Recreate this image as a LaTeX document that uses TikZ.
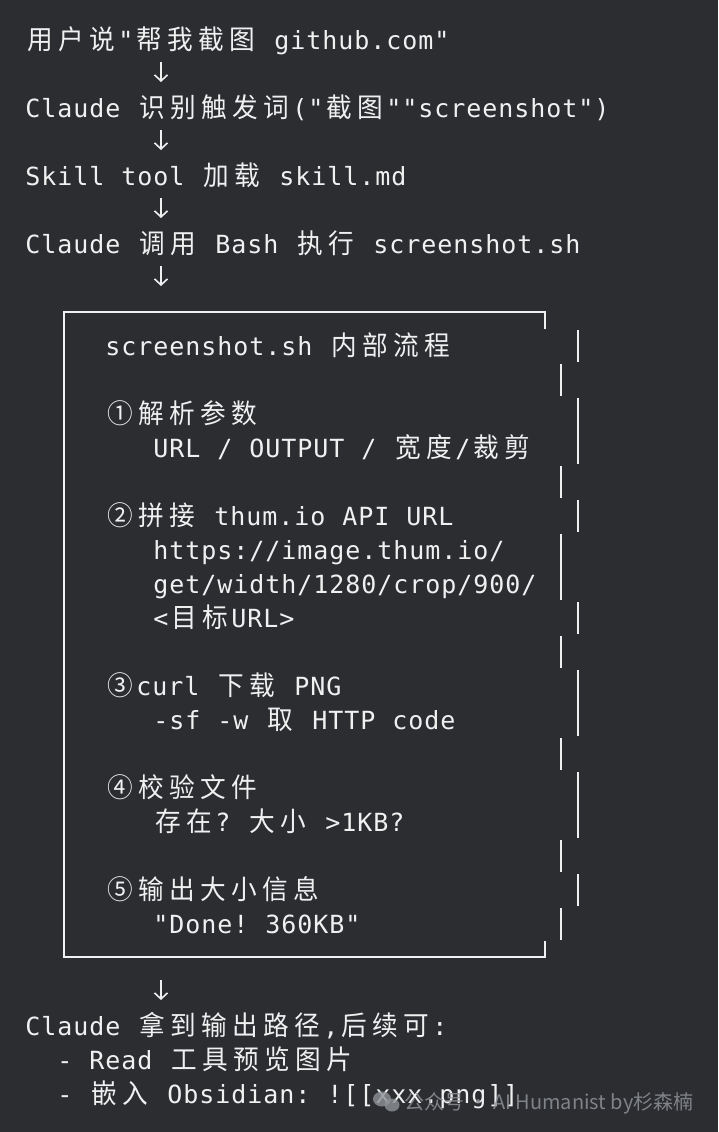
\documentclass[tikz,border=0pt]{standalone}
\usepackage{fontspec}
\usetikzlibrary{arrows.meta}
\newfontfamily\latf{DejaVu Sans Mono}
\newfontfamily\cjkf[Scale=1.08,FakeStretch=0.95]{Noto Sans CJK SC}
\newfontfamily\wmf{Noto Sans CJK SC}
\definecolor{bg}{HTML}{2B2D31}
\definecolor{fg}{HTML}{F0F0F0}
\definecolor{wmc}{HTML}{8E9196}
\def\tlend{\tlend}
\def\tlchar#1{\ifx#1~\hbox to 16pt{}\else\ifnum`#1>255\relax\hbox to 31pt{\hss\cjkf #1\hss}\else\hbox to 16pt{\hss\latf #1\hss}\fi\fi}
\def\tlloop#1{\ifx#1\tlend\else\tlchar#1\expandafter\tlloop\fi}
\newcommand\tline[1]{\fontsize{25pt}{30pt}\selectfont\tlloop#1\tlend}
\tikzset{
  txt/.style={anchor=base west, inner sep=0pt, outer sep=0pt, text=fg},
  arr/.style={draw=fg, line width=1.6pt, -{Straight Barb[length=6pt,width=13pt,line width=1.6pt]}},
  bx/.style={draw=fg, line width=1.6pt},
}
\begin{document}
\begin{tikzpicture}[x=1pt,y=-1pt]
\fill[bg] (0,0) rectangle (718,1132);
\useasboundingbox (0,0) rectangle (718,1132);
% top flow
\node[txt] (l0) at (25,49) {\tline{用户说"帮我截图~github.com"}};
\node[txt] (l2) at (25,117) {\tline{Claude~识别触发词("截图""screenshot")}};
\node[txt] (l4) at (25,185) {\tline{Skill~tool~加载~skill.md}};
\node[txt] (l6) at (25,253) {\tline{Claude~调用~Bash~执行~screenshot.sh}};
\coordinate (boxin) at (161,286);
\coordinate (boxout) at (161,980);
% box contents
\node[txt] (b9) at (105,355) {\tline{screenshot.sh~内部流程}};
\node[txt] (b11) at (105,423) {\tline{①解析参数}};
\node[txt] (b12) at (153,457) {\tline{URL~/~OUTPUT~/~宽度/裁剪}};
\node[txt] (b14) at (105,525) {\tline{②拼接~thum.io~API~URL}};
\node[txt] (b15) at (153,559) {\tline{https://image.thum.io/}};
\node[txt] (b16) at (153,593) {\tline{get/width/1280/crop/900/}};
\node[txt] (b17) at (153,627) {\tline{<目标URL>}};
\node[txt] (b19) at (105,695) {\tline{③curl~下载~PNG}};
\node[txt] (b20) at (153,729) {\tline{-sf~-w~取~HTTP~code}};
\node[txt] (b22) at (105,797) {\tline{④校验文件}};
\node[txt] (b23) at (153,831) {\tline{存在?~大小~>1KB?}};
\node[txt] (b25) at (105,899) {\tline{⑤输出大小信息}};
\node[txt] (b26) at (153,933) {\tline{"Done!~360KB"}};
% bottom
\node[txt] (l29) at (25,1035) {\tline{Claude~拿到输出路径,后续可:}};
\node[txt] (l30) at (25,1069) {\tline{~~-~Read~工具预览图片}};
\node[txt] (l31) at (25,1103) {\tline{~~-~嵌入~Obsidian:~![[xxx.png]]}};
% arrows
\draw[arr] ([xshift=136pt,yshift=-13pt]l0.base west) -- ([xshift=136pt,yshift=35pt]l2.base west);
\draw[arr] ([xshift=136pt,yshift=-13pt]l2.base west) -- ([xshift=136pt,yshift=35pt]l4.base west);
\draw[arr] ([xshift=136pt,yshift=-13pt]l4.base west) -- ([xshift=136pt,yshift=35pt]l6.base west);
\draw[arr] ([xshift=136pt,yshift=-13pt]l6.base west) -- (boxin);
\draw[arr] (boxout) -- ([xshift=136pt,yshift=35pt]l29.base west);
% box frame
\draw[bx, line join=miter] (545,329) -- (545,312) -- (64,312) -- (64,957) -- (545,957) -- (545,941);
\foreach \xx/\ka/\kb in {578/9/9, 561/10/10, 578/11/12, 561/13/13, 578/14/14, 561/15/16, 578/17/17, 561/18/18, 578/19/20, 561/21/21, 578/22/23, 561/24/24, 578/25/25, 561/26/26}
  \draw[bx] (\xx,{23+34*\ka+1}) -- (\xx,{57+34*\kb-1});
% watermark
\fill[wmc, opacity=0.8] (382,1099) ellipse (9pt and 7.5pt);
\fill[wmc, opacity=0.8] (392,1105) ellipse (7.5pt and 6.5pt);
\node[anchor=base west, inner sep=0pt, text=wmc, text opacity=0.85, font=\wmf\fontsize{20pt}{23pt}\selectfont] (wm) at (404,1109) {公众号 · AI Humanist by杉森楠};
\end{tikzpicture}
\end{document}
